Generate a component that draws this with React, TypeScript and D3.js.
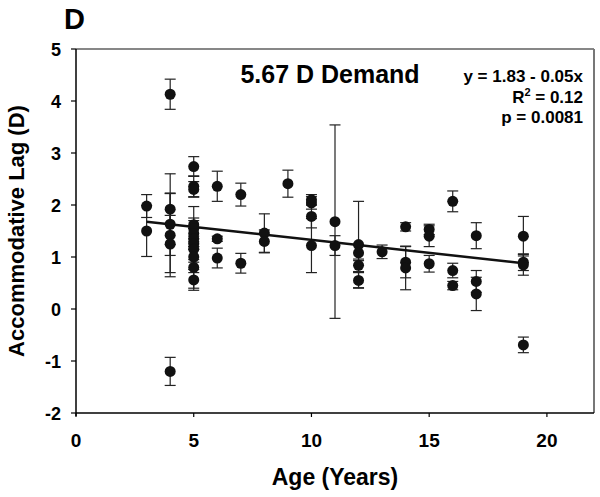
import React from "react";
import * as d3 from "d3";

const ages = [3, 3, 4, 4, 4, 4, 4, 4, 5, 5, 5, 5, 5, 5, 5, 5, 5, 5, 5, 5, 6, 6, 6, 7, 7, 8, 8, 9, 10, 10, 10, 10, 11, 11, 12, 12, 12, 12, 13, 14, 14, 14, 15, 15, 15, 16, 16, 16, 17, 17, 17, 19, 19, 19, 19];
const lag = [1.98, 1.5, 4.13, 1.92, 1.63, 1.42, 1.25, -1.2, 2.74, 2.36, 2.3, 1.62, 1.55, 1.45, 1.35, 1.25, 1.15, 1.0, 0.8, 0.56, 2.36, 1.35, 0.98, 2.2, 0.88, 1.46, 1.3, 2.41, 2.1, 2.04, 1.78, 1.22, 1.68, 1.22, 1.24, 1.08, 0.84, 0.55, 1.1, 1.58, 0.9, 0.79, 1.53, 1.4, 0.87, 2.07, 0.74, 0.45, 1.41, 0.53, 0.29, 1.4, 0.9, 0.85, -0.69];
const errs = [0.22, 0.49, 0.29, 0.68, 0.6, 0.8, 0.55, 0.27, 0.19, 0.2, 0.15, 0.35, 0.2, 0.25, 0.2, 0.3, 0.25, 0.3, 0.4, 0.2, 0.29, 0.05, 0.19, 0.22, 0.19, 0.37, 0.22, 0.26, 0.1, 0.12, 0.22, 0.52, 1.86, 0.19, 0.83, 0.15, 0.12, 0.15, 0.13, 0.08, 0.3, 0.42, 0.1, 0.2, 0.16, 0.2, 0.14, 0.08, 0.25, 0.21, 0.32, 0.38, 0.16, 0.2, 0.15];
const xTicks = [0, 5, 10, 15, 20];
const yTicks = [-2, -1, 0, 1, 2, 3, 4, 5];
const fitIntercept = 1.83;
const fitSlope = -0.05;
const fitRange = [3, 19];
const panelLabel = "D";
const titleText = "5.67 D Demand";
const statLines = ["y = 1.83 - 0.05x", "R2 = 0.12", "p = 0.0081"];

const FONT = "'Liberation Sans', Arial, Helvetica, sans-serif";

export default function App() {
  const left = 76, right = 594, top = 49, bottom = 413;
  const x = d3.scaleLinear().domain([0, 22]).range([left, right]);
  const y = d3.scaleLinear().domain([-2, 5]).range([bottom, top]);
  const line = d3.line<number>().x((d) => x(d)).y((d) => y(fitIntercept + fitSlope * d));
  const cap = 5.5;
  return (
    <svg width={600} height={497} style={{ position: "absolute", left: 0, top: 0, background: "#fff" }} fontFamily={FONT}>
      <rect x={0} y={0} width={600} height={497} fill="#fff" />
      <text x={64} y={29} fontSize={29} fontWeight="bold">{panelLabel}</text>
      {/* frame */}
      <line x1={left} x2={right} y1={top} y2={top} stroke="#111" strokeWidth={1.2} />
      <line x1={right} x2={right} y1={top} y2={bottom} stroke="#777" strokeWidth={2} />
      <line x1={left} x2={left} y1={top} y2={bottom + 3} stroke="#000" strokeWidth={1.5} />
      <line x1={left} x2={right} y1={bottom} y2={bottom} stroke="#000" strokeWidth={1.5} />
      {yTicks.map((t) => (
        <g key={"y" + t}>
          <line x1={left - 5} x2={left} y1={y(t)} y2={y(t)} stroke="#000" strokeWidth={1.2} />
          <text x={61} y={y(t) + 6.5} textAnchor="end" fontSize={18} fontWeight="bold">{t}</text>
        </g>
      ))}
      {xTicks.map((t) => (
        <g key={"x" + t}>
          <line x1={x(t)} x2={x(t)} y1={bottom} y2={bottom + 4} stroke="#000" strokeWidth={1.2} />
          <text x={x(t)} y={447} textAnchor="middle" fontSize={19} fontWeight="bold">{t}</text>
        </g>
      ))}
      <text x={335} y={485} textAnchor="middle" fontSize={23} fontWeight="bold">Age (Years)</text>
      <text transform={`translate(24, 231) rotate(-90)`} textAnchor="middle" fontSize={22} fontWeight="bold">Accommodative Lag (D)</text>
      {/* error bars */}
      {ages.map((a, i) => {
        const cx = x(a);
        const y1 = y(lag[i] + errs[i]);
        const y2 = y(lag[i] - errs[i]);
        return (
          <g key={"e" + i} stroke="#222" strokeWidth={1.2}>
            <line x1={cx} x2={cx} y1={y1} y2={y2} />
            <line x1={cx - cap} x2={cx + cap} y1={y1} y2={y1} />
            <line x1={cx - cap} x2={cx + cap} y1={y2} y2={y2} />
          </g>
        );
      })}
      <path d={line(fitRange) || ""} stroke="#111" strokeWidth={2.5} fill="none" />
      {ages.map((a, i) => (
        <circle key={"c" + i} cx={x(a)} cy={y(lag[i])} r={5.5} fill="#111" />
      ))}
      <text x={330} y={83} textAnchor="middle" fontSize={25} fontWeight="bold">{titleText}</text>
      <text x={583} y={81.5} textAnchor="end" fontSize={17} fontWeight="bold">{statLines[0]}</text>
      <text x={583} y={102.5} textAnchor="end" fontSize={17} fontWeight="bold">
        R<tspan dy={-7} fontSize={11}>2</tspan><tspan dy={7}> = 0.12</tspan>
      </text>
      <text x={583} y={122.5} textAnchor="end" fontSize={17} fontWeight="bold">{statLines[2]}</text>
    </svg>
  );
}
